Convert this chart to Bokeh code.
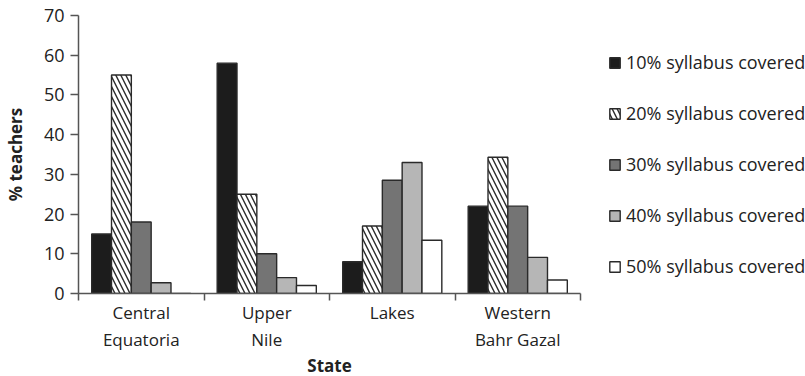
from bokeh.plotting import figure
from bokeh.models import Range1d, FixedTicker, Legend, LegendItem, ColumnDataSource
from bokeh.embed import file_html
from bokeh.resources import INLINE

# ---- data ----
states = ["Central\nEquatoria", "Upper\nNile", "Lakes", "Western\nBahr Gazal"]
series = ["10% syllabus covered", "20% syllabus covered", "30% syllabus covered",
          "40% syllabus covered", "50% syllabus covered"]
pct10 = [15, 58, 8, 22]
pct20 = [55, 25, 17, 34.3]
pct30 = [18, 10, 28.5, 22]
pct40 = [2.7, 4, 33, 9.1]
pct50 = [0, 2, 13.4, 3.4]
y_ticks = [0, 10, 20, 30, 40, 50, 60, 70]

values = [pct10, pct20, pct30, pct40, pct50]
fills = ["#1c1c1c", "white", "#747474", "#b6b6b6", "white"]
hatches = [" ", "\\", " ", " ", " "]

FONT = "Open Sans"
TXT = "#222222"

p = figure(frame_width=502, frame_height=278, output_backend="svg", toolbar_location=None,
           x_range=Range1d(0, len(states)), y_range=Range1d(0, 70),
           min_border_left=76, min_border_top=15, min_border_bottom=80,
           min_border_right=0)
p.outline_line_color = None
p.xgrid.visible = False
p.ygrid.visible = False

bw = 0.158
centers = [i + 0.5 for i in range(len(states))]
items = []
for k, (vals, name) in enumerate(zip(values, series)):
    xs = [c + (k - 2) * bw for c in centers]
    src = ColumnDataSource(dict(x=xs, top=vals))
    r = p.vbar(x="x", top="top", bottom=0, width=bw, source=src,
               fill_color=fills[k], line_color="#2a2a2a", line_width=1.4,
               hatch_pattern=hatches[k], hatch_color="#2a2a2a",
               hatch_scale=10, hatch_weight=1.4)
    items.append(LegendItem(label=name, renderers=[r]))

# y axis
ya = p.yaxis[0]
ya.ticker = FixedTicker(ticks=y_ticks)
ya.axis_line_color = "#555555"
ya.axis_line_width = 1.5
ya.major_tick_line_color = "#555555"
ya.major_tick_line_width = 1.5
ya.major_tick_out = 8
ya.major_tick_in = 0
ya.minor_tick_line_color = None
ya.major_label_text_font = FONT
ya.major_label_text_font_size = "18px"
ya.major_label_text_color = TXT
ya.major_label_standoff = 6
ya.axis_label = "% teachers"
ya.axis_label_text_font = FONT
ya.axis_label_text_font_size = "17px"
ya.axis_label_text_font_style = "bold"
ya.axis_label_text_color = TXT
ya.axis_label_standoff = 14

# x axis
xa = p.xaxis[0]
xa.ticker = FixedTicker(ticks=centers, minor_ticks=list(range(len(states) + 1)))
xa.major_label_overrides = {c: s for c, s in zip(centers, states)}
xa.axis_line_color = "#555555"
xa.axis_line_width = 1.5
xa.major_tick_line_color = None
xa.minor_tick_line_color = "#555555"
xa.minor_tick_line_width = 1.5
xa.minor_tick_out = 7
xa.minor_tick_in = 0
xa.major_label_text_font = FONT
xa.major_label_text_font_size = "17px"
xa.major_label_text_color = TXT
xa.major_label_standoff = 0
xa.axis_label = "State"
xa.axis_label_text_font = FONT
xa.axis_label_text_font_size = "17px"
xa.axis_label_text_font_style = "bold"
xa.axis_label_text_color = TXT
xa.axis_label_standoff = 0

legend = Legend(items=items, location=(28, 15), orientation="vertical",
                glyph_width=13, glyph_height=13, label_height=20, spacing=27,
                padding=0, margin=0, label_standoff=5,
                border_line_color=None, background_fill_alpha=0,
                label_text_font=FONT, label_text_font_size="18px",
                label_text_color=TXT)
p.add_layout(legend, "right")

open("out.html", "w").write(file_html(p, INLINE))
